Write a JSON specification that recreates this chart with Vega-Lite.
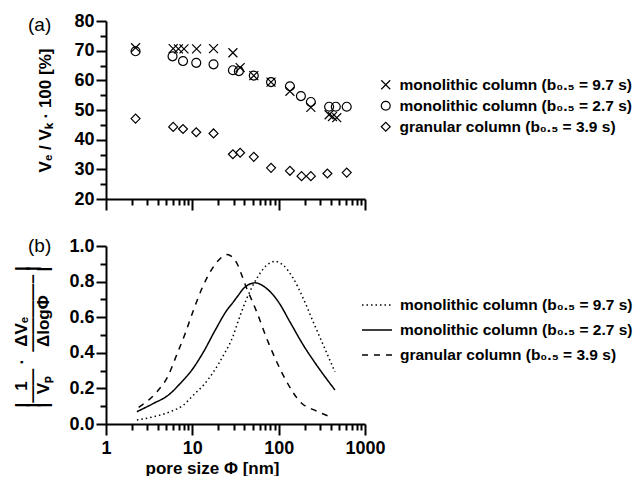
{
  "$schema": "https://vega.github.io/schema/vega-lite/v6.json",
  "background": "white",
  "padding": {"left": 12, "top": 12, "right": 0, "bottom": 0},
  "bounds": "flush",
  "spacing": 47,
  "resolve": {"legend": {"shape": "independent", "strokeDash": "independent"}, "scale": {"shape": "independent", "strokeDash": "independent", "y": "independent"}},
  "config": {
    "font": "Liberation Sans",
    "view": {"stroke": null},
    "axis": {"domainColor": "black", "domainWidth": 2, "tickColor": "black", "tickWidth": 2, "labelColor": "black", "labelFont": "Liberation Sans", "labelFontWeight": "bold", "labelFontSize": 18, "titleFont": "Liberation Sans", "titleFontWeight": "bold", "titleFontSize": 17, "titleColor": "black", "grid": false, "labelPadding": 2, "labelFlush": false},
    "legend": {"labelFont": "Liberation Sans", "labelFontWeight": "bold", "labelFontSize": 15.5, "labelColor": "black", "labelLimit": 400}
  },
  "vconcat": [
    {
      "width": 259,
      "height": 178,
      "title": {"text": "(a)", "anchor": "start", "frame": "group", "orient": "top", "offset": -38, "dx": -78, "fontSize": 19, "fontWeight": "normal", "color": "black", "baseline": "alphabetic"},
      "data": {"values": [
        {"d": 2.2, "v": 71.0, "s": "A"}, {"d": 6.0, "v": 70.7, "s": "A"}, {"d": 6.9, "v": 70.6, "s": "A"}, {"d": 8.0, "v": 70.6, "s": "A"}, {"d": 11.2, "v": 70.6, "s": "A"}, {"d": 17.6, "v": 70.7, "s": "A"}, {"d": 29.5, "v": 69.3, "s": "A"}, {"d": 35.8, "v": 64.3, "s": "A"}, {"d": 51.5, "v": 61.6, "s": "A"}, {"d": 81.6, "v": 59.4, "s": "A"}, {"d": 135, "v": 56.3, "s": "A"}, {"d": 236, "v": 50.9, "s": "A"}, {"d": 384, "v": 48.4, "s": "A"}, {"d": 420, "v": 47.8, "s": "A"}, {"d": 471, "v": 47.4, "s": "A"},
        {"d": 2.2, "v": 69.8, "s": "B"}, {"d": 5.9, "v": 68.1, "s": "B"}, {"d": 7.8, "v": 66.5, "s": "B"}, {"d": 11.1, "v": 65.9, "s": "B"}, {"d": 17.6, "v": 65.4, "s": "B"}, {"d": 29.5, "v": 63.4, "s": "B"}, {"d": 34.6, "v": 63.1, "s": "B"}, {"d": 51.5, "v": 61.6, "s": "B"}, {"d": 81.6, "v": 59.4, "s": "B"}, {"d": 135, "v": 58.0, "s": "B"}, {"d": 181, "v": 54.7, "s": "B"}, {"d": 236, "v": 52.7, "s": "B"}, {"d": 384, "v": 51.1, "s": "B"}, {"d": 459, "v": 51.1, "s": "B"}, {"d": 614, "v": 51.1, "s": "B"},
        {"d": 2.2, "v": 47.1, "s": "C"}, {"d": 6.0, "v": 44.3, "s": "C"}, {"d": 7.8, "v": 43.6, "s": "C"}, {"d": 11.1, "v": 42.5, "s": "C"}, {"d": 17.6, "v": 42.1, "s": "C"}, {"d": 29.5, "v": 35.1, "s": "C"}, {"d": 35.8, "v": 35.6, "s": "C"}, {"d": 51.5, "v": 34.2, "s": "C"}, {"d": 81.6, "v": 30.5, "s": "C"}, {"d": 135, "v": 29.5, "s": "C"}, {"d": 184, "v": 27.7, "s": "C"}, {"d": 236, "v": 27.7, "s": "C"}, {"d": 367, "v": 28.6, "s": "C"}, {"d": 614, "v": 28.9, "s": "C"}
      ]},
      "mark": {"type": "point", "filled": false, "stroke": "black", "strokeWidth": 1.2, "size": 80, "opacity": 1},
      "encoding": {
        "x": {"field": "d", "type": "quantitative", "scale": {"type": "log", "domain": [1, 1000]},
          "axis": {"values": [1,2,3,4,5,6,7,8,9,10,20,30,40,50,60,70,80,90,100,200,300,400,500,600,700,800,900,1000], "labels": false, "title": null,
            "tickSize": {"condition": {"test": "datum.value==1||datum.value==10||datum.value==100||datum.value==1000", "value": 11}, "value": 6}}},
        "y": {"field": "v", "type": "quantitative", "scale": {"domain": [20, 80]},
          "axis": {"values": [20,25,30,35,40,45,50,55,60,65,70,75,80], "labelExpr": "datum.value % 10 == 0 ? datum.label : ''", "title": "Vₑ / Vₖ · 100 [%]", "titlePadding": 19,
            "tickSize": {"condition": {"test": "datum.value % 10 == 0", "value": 10}, "value": 6}}},
        "shape": {"field": "s", "type": "nominal",
          "scale": {"domain": ["A", "B", "C"], "range": ["M-1,-1L1,1M-1,1L1,-1", "circle", "diamond"]},
          "legend": {"orient": "none", "legendX": 272, "legendY": 56, "title": null, "padding": 0, "labelOffset": 6, "rowPadding": 4, "symbolStrokeColor": "black", "symbolStrokeWidth": 1.2, "symbolSize": 80,
            "labelExpr": "datum.value == 'A' ? 'monolithic column (b₀.₅ = 9.7 s)' : datum.value == 'B' ? 'monolithic column (b₀.₅ = 2.7 s)' : 'granular column (b₀.₅ = 3.9 s)'"}}
      }
    },
    {
      "width": 259,
      "height": 178,
      "title": {"text": "(b)", "anchor": "start", "frame": "group", "orient": "top", "offset": -34, "dx": -78, "fontSize": 19, "fontWeight": "normal", "color": "black", "baseline": "alphabetic"},
      "data": {"values": [
        {"d": 2.28, "v": 0.022, "s": "A"}, {"d": 3.56, "v": 0.041, "s": "A"}, {"d": 5.55, "v": 0.069, "s": "A"}, {"d": 7.91, "v": 0.107, "s": "A"}, {"d": 10.3, "v": 0.163, "s": "A"}, {"d": 13.5, "v": 0.219, "s": "A"}, {"d": 17.6, "v": 0.293, "s": "A"}, {"d": 23, "v": 0.387, "s": "A"}, {"d": 29.9, "v": 0.499, "s": "A"}, {"d": 33, "v": 0.56, "s": "A"}, {"d": 42.7, "v": 0.705, "s": "A"}, {"d": 55.7, "v": 0.817, "s": "A"}, {"d": 72.6, "v": 0.892, "s": "A"}, {"d": 90.9, "v": 0.914, "s": "A"}, {"d": 113, "v": 0.892, "s": "A"}, {"d": 148, "v": 0.817, "s": "A"}, {"d": 193, "v": 0.705, "s": "A"}, {"d": 251, "v": 0.574, "s": "A"}, {"d": 329, "v": 0.443, "s": "A"}, {"d": 449, "v": 0.293, "s": "A"},
        {"d": 2.28, "v": 0.069, "s": "B"}, {"d": 3.56, "v": 0.116, "s": "B"}, {"d": 5.3, "v": 0.163, "s": "B"}, {"d": 7.25, "v": 0.228, "s": "B"}, {"d": 9.87, "v": 0.303, "s": "B"}, {"d": 13.5, "v": 0.406, "s": "B"}, {"d": 18.4, "v": 0.527, "s": "B"}, {"d": 25.1, "v": 0.639, "s": "B"}, {"d": 29.9, "v": 0.686, "s": "B"}, {"d": 34.2, "v": 0.724, "s": "B"}, {"d": 39.1, "v": 0.761, "s": "B"}, {"d": 53.3, "v": 0.793, "s": "B"}, {"d": 72.6, "v": 0.761, "s": "B"}, {"d": 99.3, "v": 0.686, "s": "B"}, {"d": 135, "v": 0.574, "s": "B"}, {"d": 193, "v": 0.443, "s": "B"}, {"d": 275, "v": 0.331, "s": "B"}, {"d": 449, "v": 0.191, "s": "B"},
        {"d": 2.39, "v": 0.094, "s": "C"}, {"d": 3.89, "v": 0.181, "s": "C"}, {"d": 5.3, "v": 0.275, "s": "C"}, {"d": 6.34, "v": 0.368, "s": "C"}, {"d": 8.27, "v": 0.509, "s": "C"}, {"d": 10.3, "v": 0.639, "s": "C"}, {"d": 12.9, "v": 0.761, "s": "C"}, {"d": 16.1, "v": 0.854, "s": "C"}, {"d": 20.1, "v": 0.92, "s": "C"}, {"d": 25.1, "v": 0.952, "s": "C"}, {"d": 31.3, "v": 0.92, "s": "C"}, {"d": 42.7, "v": 0.761, "s": "C"}, {"d": 55.7, "v": 0.63, "s": "C"}, {"d": 72.6, "v": 0.481, "s": "C"}, {"d": 94.8, "v": 0.35, "s": "C"}, {"d": 124, "v": 0.237, "s": "C"}, {"d": 177, "v": 0.125, "s": "C"}, {"d": 275, "v": 0.073, "s": "C"}, {"d": 393, "v": 0.041, "s": "C"}
      ]},
      "mark": {"type": "line", "stroke": "black", "strokeWidth": 1.5, "interpolate": "monotone"},
      "encoding": {
        "x": {"field": "d", "type": "quantitative", "scale": {"type": "log", "domain": [1, 1000]},
          "axis": {"values": [1,2,3,4,5,6,7,8,9,10,20,30,40,50,60,70,80,90,100,200,300,400,500,600,700,800,900,1000],
            "labelExpr": "(datum.value==1||datum.value==10||datum.value==100||datum.value==1000) ? format(datum.value, 'd') : ''",
            "title": "pore size Φ [nm]", "titlePadding": 3, "labelPadding": 4, "titleX": 106, "titleAlign": "center",
            "tickSize": {"condition": {"test": "datum.value==1||datum.value==10||datum.value==100||datum.value==1000", "value": 11}, "value": 6}}},
        "y": {"field": "v", "type": "quantitative", "scale": {"domain": [0, 1]},
          "axis": {"values": [0,0.1,0.2,0.3,0.4,0.5,0.6,0.7,0.8,0.9,1.0], "labelExpr": "round(datum.value*10) % 2 == 0 ? format(datum.value, '.1f') : ''",
            "title": ["|\u2002\u20091\u2002\u2002·\u2002\u2009ΔVₑ\u2003\u2003\u2002\u2009|", "|——\u2003————–\u2009|", "|\u2002Vₚ\u2003\u2002\u2009ΔlogΦ\u2003\u2009\u2009|"],
            "titleAlign": "left", "titleAngle": -90, "titleBaseline": "alphabetic", "titleX": -80, "titleY": 161, "titleLineHeight": 11, "titleFontSize": 17,
            "tickSize": {"condition": {"test": "round(datum.value*10) % 2 == 0", "value": 10}, "value": 6}}},
        "strokeDash": {"field": "s", "type": "nominal",
          "scale": {"domain": ["A", "B", "C"], "range": [[1.5, 3], [1, 0], [6, 6]]},
          "legend": {"orient": "none", "legendX": 255, "legendY": 43, "title": null, "padding": 0, "labelOffset": 7, "rowPadding": -10, "symbolType": "stroke", "symbolSize": 900, "symbolStrokeColor": "black", "symbolStrokeWidth": 1.5,
            "labelExpr": "datum.value == 'A' ? 'monolithic column (b₀.₅ = 9.7 s)' : datum.value == 'B' ? 'monolithic column (b₀.₅ = 2.7 s)' : 'granular column (b₀.₅ = 3.9 s)'"}}
      }
    }
  ]
}
